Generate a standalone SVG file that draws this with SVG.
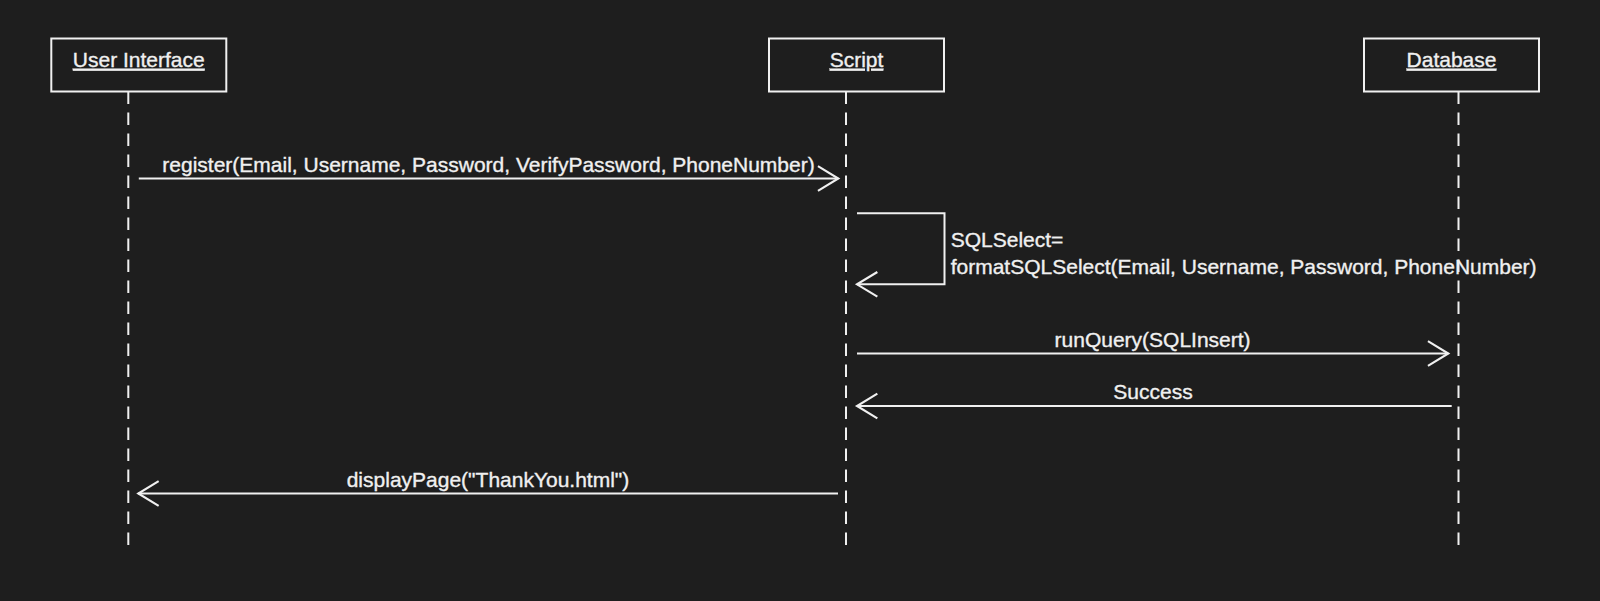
<svg xmlns="http://www.w3.org/2000/svg" width="1600" height="601" viewBox="0 0 1600 601">
  <style>
    .bg { fill: #1e1e1e; }
    .box { fill: #1e1e1e; stroke: #f0f0f0; stroke-width: 2; }
    .life { fill: none; stroke: #f0f0f0; stroke-width: 2; stroke-dasharray: 12.5 8.5; }
    .msg { fill: none; stroke: #f0f0f0; stroke-width: 2; marker-end: url(#open); }
    .title { font-family: "Liberation Sans", Arial, sans-serif; font-size: 21px; fill: #f0f0f0; stroke: #f0f0f0; stroke-width: 0.35; text-anchor: middle; text-decoration: underline; }
    .lbl { font-family: "Liberation Sans", Arial, sans-serif; font-size: 21px; fill: #f0f0f0; stroke: #f0f0f0; stroke-width: 0.35; }
    .mid { text-anchor: middle; }
  </style>
  <defs>
    <marker id="open" markerUnits="userSpaceOnUse" markerWidth="30" markerHeight="30" viewBox="-22 -14 26 28" refX="0" refY="0" orient="auto">
      <path d="M-19,-11.5 L0,0 L-19,11.5" fill="none" stroke="#f0f0f0" stroke-width="2"/>
    </marker>
  </defs>
  <rect class="bg" x="0" y="0" width="1600" height="601"/>

  <g id="user-interface">
    <line class="life" x1="128.3" y1="91.5" x2="128.3" y2="545"/>
    <rect class="box" x="51.3" y="38.5" width="175" height="53"/>
    <text class="title" x="138.8" y="66.7">User Interface</text>
  </g>
  <g id="script">
    <line class="life" x1="846" y1="91.5" x2="846" y2="545"/>
    <rect class="box" x="769" y="38.5" width="175" height="53"/>
    <text class="title" x="856.5" y="66.7">Script</text>
  </g>
  <g id="database">
    <line class="life" x1="1458.5" y1="91.5" x2="1458.5" y2="545"/>
    <rect class="box" x="1364" y="38.5" width="175" height="53"/>
    <text class="title" x="1451.5" y="66.7">Database</text>
  </g>

  <g id="connectors">
    <g id="msg-register">
      <line class="msg" x1="138.8" y1="178.5" x2="838.3" y2="178.5"/>
      <text class="lbl mid" x="488.5" y="171.7">register(Email, Username, Password, VerifyPassword, PhoneNumber)</text>
    </g>
    <g id="msg-format">
      <path class="msg" d="M857,213.3 H944.5 V284.3 H857"/>
      <text class="lbl" x="950.7" y="247.3">SQLSelect=</text>
      <text class="lbl" x="950.7" y="274">formatSQLSelect(Email, Username, Password, PhoneNumber)</text>
    </g>
    <g id="msg-runquery">
      <line class="msg" x1="857" y1="353.5" x2="1448.3" y2="353.5"/>
      <text class="lbl mid" x="1152.6" y="346.5">runQuery(SQLInsert)</text>
    </g>
    <g id="msg-success">
      <line class="msg" x1="1451.7" y1="406" x2="857" y2="406"/>
      <text class="lbl mid" x="1153" y="399">Success</text>
    </g>
    <g id="msg-display">
      <line class="msg" x1="838" y1="493.5" x2="138.3" y2="493.5"/>
      <text class="lbl mid" x="488" y="486.5">displayPage("ThankYou.html")</text>
    </g>
  </g>
</svg>
